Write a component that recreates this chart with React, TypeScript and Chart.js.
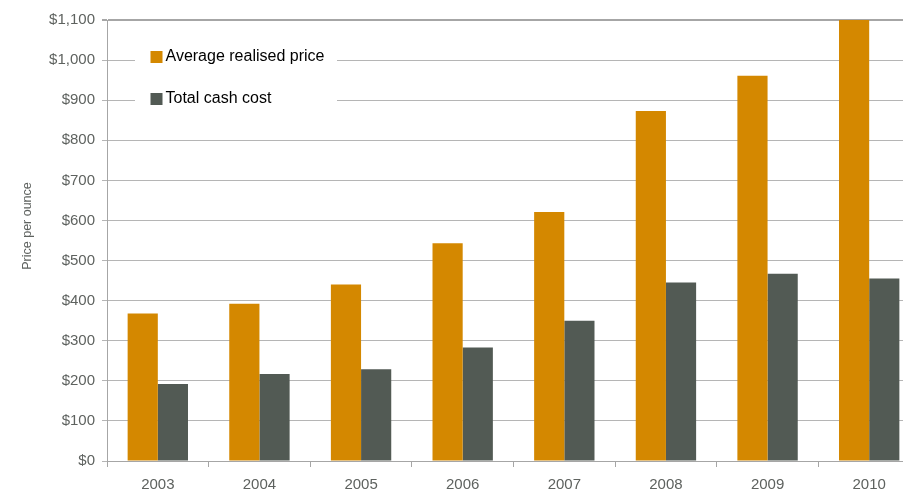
import React, { useEffect, useRef } from "react";
import { Chart, registerables } from "chart.js";

Chart.register(...registerables);

const years = ["2003", "2004", "2005", "2006", "2007", "2008", "2009", "2010"];
const avgRealisedPrice = [368, 392, 440, 543, 621, 873, 961, 1100];
const totalCashCost = [192, 217, 229, 283, 350, 445, 467, 455];
const seriesLabels = ["Average realised price", "Total cash cost"];
const seriesColors = ["#D48800", "#525A54"];
const yTitle = "Price per ounce";

const FONT = "'Liberation Sans', Arial, sans-serif";
const TICK_COLOR = "#5E625F";

export default function App() {
  const ref = useRef<HTMLCanvasElement | null>(null);

  useEffect(() => {
    if (!ref.current) return;

    const overlay = {
      id: "overlay",
      afterDraw(chart: any) {
        const ctx = chart.ctx;
        ctx.save();
        // legend box
        ctx.fillStyle = "#ffffff";
        ctx.fillRect(135, 32, 202, 86);
        const rows = [57, 99];
        chart.data.datasets.forEach((ds: any, i: number) => {
          const cy = rows[i];
          ctx.fillStyle = ds.backgroundColor;
          ctx.fillRect(150.5, cy - 6, 12, 12);
          ctx.fillStyle = "#000000";
          ctx.font = `16px ${FONT}`;
          ctx.textAlign = "left";
          ctx.textBaseline = "middle";
          ctx.fillText(ds.label, 165.5, cy);
        });
        // y title
        ctx.translate(28, 226);
        ctx.rotate(-Math.PI / 2);
        ctx.fillStyle = TICK_COLOR;
        ctx.font = `12.5px ${FONT}`;
        ctx.textAlign = "center";
        ctx.textBaseline = "middle";
        ctx.fillText(yTitle, 0, 0);
        ctx.restore();
      },
    };

    const chart = new Chart(ref.current, {
      type: "bar",
      data: {
        labels: years,
        datasets: [
          { label: seriesLabels[0], data: avgRealisedPrice, backgroundColor: seriesColors[0], borderWidth: 0 },
          { label: seriesLabels[1], data: totalCashCost, backgroundColor: seriesColors[1], borderWidth: 0 },
        ],
      },
      options: {
        responsive: false,
        animation: false,
        devicePixelRatio: 1,
        layout: { padding: { top: 20, left: 0, right: 0, bottom: 0 } },
        datasets: { bar: { categoryPercentage: 0.594, barPercentage: 1 } },
        plugins: {
          legend: { display: false },
          tooltip: { enabled: false },
          title: { display: false },
        },
        scales: {
          x: {
            grid: {
              display: true,
              drawOnChartArea: false,
              drawTicks: true,
              tickLength: 6,
              color: "#A6A6A6",
              offset: true,
            },
            border: { color: "#A6A6A6", width: 1 },
            ticks: { color: TICK_COLOR, font: { family: FONT, size: 15 }, padding: 9 },
            afterFit: (s: any) => {
              s.height = 30;
            },
          },
          y: {
            min: 0,
            max: 1100,
            ticks: {
              stepSize: 100,
              color: TICK_COLOR,
              font: { family: FONT, size: 15 },
              padding: 7,
              callback: (v: any) => "$" + Number(v).toLocaleString("en-US"),
            },
            grid: {
              color: (c: any) => (c.tick && c.tick.value === 1100 ? "#A6A6A6" : "#B5B5B5"),
              lineWidth: (c: any) => (c.tick && c.tick.value === 1100 ? 2 : 1),
              tickLength: 5,
            },
            border: { color: "#A6A6A6", width: 1 },
            afterFit: (s: any) => {
              s.width = 107;
            },
          },
        },
      },
      plugins: [overlay],
    });

    return () => chart.destroy();
  }, []);

  return (
    <div
      style={{
        position: "fixed",
        left: 0,
        top: 0,
        width: 903,
        height: 491,
        overflow: "hidden",
        background: "#ffffff",
      }}
    >
      <canvas ref={ref} width={920} height={491} style={{ display: "block", width: 920, height: 491 }} />
    </div>
  );
}
